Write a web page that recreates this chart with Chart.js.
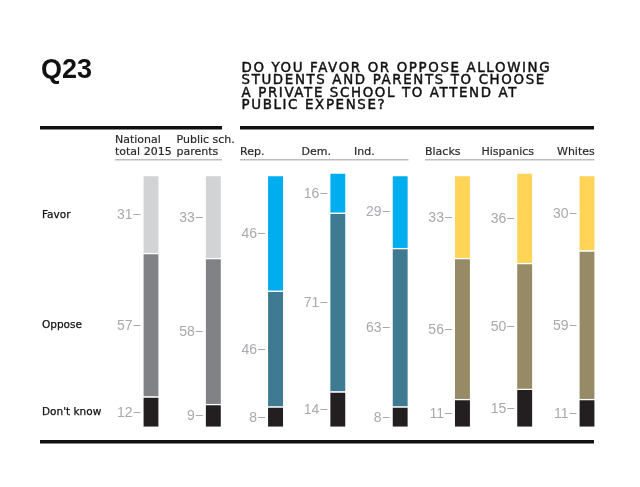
<!DOCTYPE html>
<html>
<head>
<meta charset="utf-8">
<script src="https://cdn.jsdelivr.net/npm/chart.js@4"></script>
<style>
  html, body { margin: 0; padding: 0; background: #fff; }
  #wrap { width: 640px; height: 487px; position: relative; }
</style>
</head>
<body>
<div id="wrap"><canvas id="q23"></canvas></div>
<script>
// groups shown across the chart
const categories = ["National total 2015", "Public sch. parents", "Rep.", "Dem.", "Ind.", "Blacks", "Hispanics", "Whites"];
const headerLines = [["National", "total 2015"], ["Public sch.", "parents"], ["Rep."], ["Dem."], ["Ind."], ["Blacks"], ["Hispanics"], ["Whites"]];
const answers = ["Favor", "Oppose", "Don't know"];

// percentages
const favor = [31, 33, 46, 16, 29, 33, 36, 30];
const oppose = [57, 58, 46, 71, 63, 56, 50, 59];
const dontKnow = [12, 9, 8, 14, 8, 11, 15, 11];

const title = "Q23";
const questionLines = [
  "DO YOU FAVOR OR OPPOSE ALLOWING",
  "STUDENTS AND PARENTS TO CHOOSE",
  "A PRIVATE SCHOOL TO ATTEND AT",
  "PUBLIC EXPENSE?",
];

// colours per group: grey for totals, blue for parties, gold for race
const favorColors = ["#d1d3d4", "#d1d3d4", "#00aeef", "#00aeef", "#00aeef", "#ffd457", "#ffd457", "#ffd457"];
const opposeColors = ["#808285", "#808285", "#3e7b93", "#3e7b93", "#3e7b93", "#968a67", "#968a67", "#968a67"];
const dkColor = "#231f20";

const labelGray = "#a7a9ac";

const segmentLabels = {
  id: "segmentLabels",
  afterDatasetsDraw(chart) {
    const ctx = chart.ctx;
    ctx.save();
    ctx.font = "14px 'Liberation Sans', Arial, sans-serif";
    ctx.fillStyle = labelGray;
    ctx.strokeStyle = labelGray;
    ctx.lineWidth = 1;
    ctx.textAlign = "right";
    ctx.textBaseline = "middle";
    chart.data.datasets.forEach((ds, di) => {
      const meta = chart.getDatasetMeta(di);
      meta.data.forEach((bar, i) => {
        const left = bar.x - bar.width / 2;
        const mid = Math.round((bar.y + bar.base) / 2) + 0.5;
        ctx.fillText(String(ds.data[i]), left - 11, mid + 1);
        ctx.beginPath();
        ctx.moveTo(left - 10, mid);
        ctx.lineTo(left - 3, mid);
        ctx.stroke();
      });
    });

    // answer names on the left, lined up with the first column
    ctx.textAlign = "left";
    ctx.fillStyle = "#111";
    ctx.strokeStyle = "#111";
    ctx.lineWidth = 0.25;
    ctx.font = "10.5px 'DejaVu Sans', sans-serif";
    chart.data.datasets.forEach((ds, di) => {
      const bar = chart.getDatasetMeta(di).data[0];
      const mid = (bar.y + bar.base) / 2;
      ctx.fillText(ds.label, 42, mid + 1);
      ctx.strokeText(ds.label, 42, mid + 1);
    });
    ctx.restore();
  },
};

const frame = {
  id: "frame",
  afterDraw(chart) {
    const ctx = chart.ctx;
    ctx.save();

    // Q23
    ctx.fillStyle = "#111";
    ctx.font = "bold 27px 'Liberation Sans', Arial, sans-serif";
    ctx.textBaseline = "alphabetic";
    ctx.fillText(title, 41, 77.5);

    // question text, spaced out to the printed width
    ctx.font = "13.4px 'DejaVu Sans', sans-serif";
    ctx.letterSpacing = "0px";
    const w0 = ctx.measureText(questionLines[0]).width;
    const spacing = (308 - w0) / (questionLines[0].length - 1);
    ctx.letterSpacing = spacing.toFixed(2) + "px";
    ctx.strokeStyle = "#111";
    ctx.lineWidth = 0.45;
    questionLines.forEach((line, i) => {
      ctx.fillText(line, 241.5, 71.5 + i * 12.5);
      ctx.strokeText(line, 241.5, 71.5 + i * 12.5);
    });
    ctx.letterSpacing = "0px";

    // heavy rules
    ctx.fillStyle = "#111";
    ctx.fillRect(40, 126, 182, 3.5);
    ctx.fillRect(240, 126, 354, 3.5);
    ctx.fillRect(40, 440, 554, 3.5);

    // column headers
    ctx.fillStyle = "#2a2a2a";
    ctx.strokeStyle = "#2a2a2a";
    ctx.lineWidth = 0.2;
    ctx.font = "11px 'DejaVu Sans', sans-serif";
    const headerX = [115, 176.5, 240, 301.5, 354, 425, 481.5, 557];
    headerLines.forEach((lines, i) => {
      const base = lines.length === 2 ? 143 : 154.5;
      lines.forEach((t, k) => {
        ctx.fillText(t, headerX[i], base + k * 11.5);
        ctx.strokeText(t, headerX[i], base + k * 11.5);
      });
    });

    // thin group rules under the headers
    ctx.fillStyle = "#bcbec0";
    ctx.fillRect(115, 159, 107, 1.5);
    ctx.fillRect(240, 159, 168.5, 1.5);
    ctx.fillRect(425, 159, 169.5, 1.5);
    ctx.restore();
  },
};

const seg = (label, data, color) => ({
  label,
  data,
  backgroundColor: color,
  borderColor: "#ffffff",
  borderWidth: { top: 1.5, left: 0, right: 0, bottom: 0 },
  borderSkipped: false,
  barThickness: 15,
});

new Chart(document.getElementById("q23"), {
  type: "bar",
  data: {
    labels: categories,
    datasets: [
      seg(answers[2], dontKnow, dkColor),
      seg(answers[1], oppose, opposeColors),
      seg(answers[0], favor, favorColors),
    ],
  },
  options: {
    responsive: true,
    maintainAspectRatio: false,
    animation: false,
    devicePixelRatio: 1,
    layout: { padding: { top: 162.4, bottom: 60.3, left: 119.85, right: 21.85 } },
    plugins: {
      legend: { display: false },
      title: { display: false },
      tooltip: { enabled: false },
    },
    scales: {
      x: { stacked: true, display: false },
      y: { stacked: true, display: false, min: 0, max: 105 },
    },
  },
  plugins: [segmentLabels, frame],
});
</script>
</body>
</html>
